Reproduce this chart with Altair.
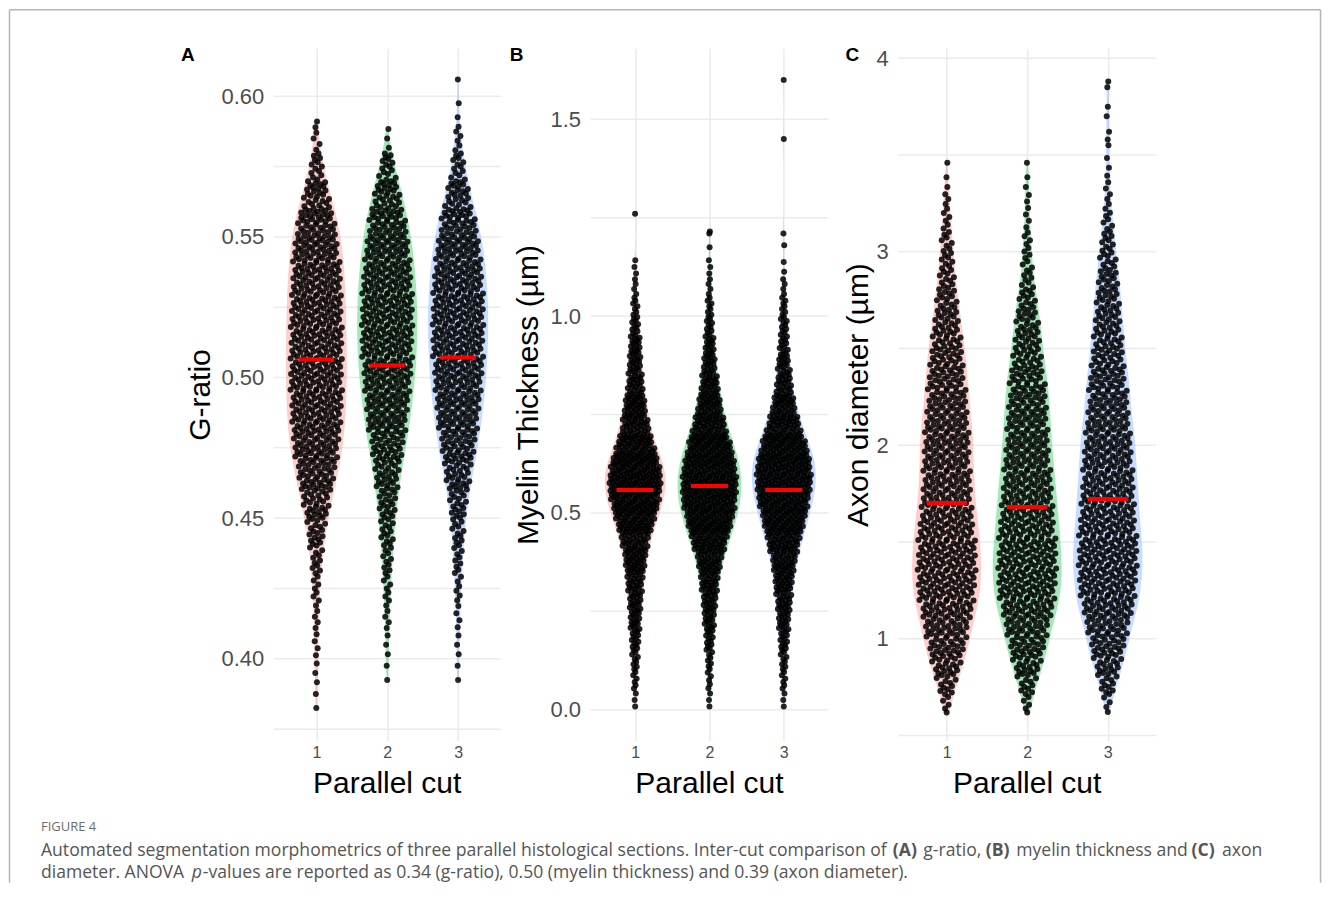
import altair as alt
import numpy as np
import pandas as pd

FONT = "Liberation Sans"
CAPTION_FONT = "Open Sans"

# ---------------- values ----------------
GROUPS = [1, 2, 3]
GROUP_COLORS = ["#F8766D", "#00BA38", "#619CFF"]
X_TITLE = "Parallel cut"

# Panel A - G-ratio : number of points per 0.01-wide bin starting at 0.38
A_TITLE = "G-ratio"
A_BIN_START, A_BIN_WIDTH = 0.38, 0.01
A_COUNTS_1 = [2, 3, 4, 5, 7, 11, 18, 28, 40, 50, 55, 57, 58, 57, 56, 54, 50, 42, 27, 13, 5]
A_EXTRA_1 = [0.591]
A_COUNTS_2 = [0, 2, 3, 5, 7, 10, 14, 19, 26, 35, 44, 50, 55, 57, 57, 54, 49, 41, 29, 15, 3]
A_EXTRA_2 = []
A_COUNTS_3 = [0, 2, 3, 4, 6, 9, 12, 18, 27, 37, 45, 51, 55, 57, 57, 54, 49, 39, 25, 13, 6, 2]
A_EXTRA_3 = [0.606]
A_MEDIANS = [0.5064, 0.5043, 0.5071]
A_TICKS = [0.40, 0.45, 0.50, 0.55, 0.60]
A_MINOR = [0.375, 0.425, 0.475, 0.525, 0.575]

# Panel B - myelin thickness : points per 0.05-wide bin starting at 0.00
B_TITLE = "Myelin Thickness (µm)"
B_BIN_START, B_BIN_WIDTH = 0.0, 0.05
B_COUNTS_1 = [3, 6, 8, 12, 15, 18, 23, 30, 37, 55, 70, 81, 73, 53, 37, 31, 22, 18, 16, 11, 7, 4, 3]
B_EXTRA_1 = [1.26]
B_COUNTS_2 = [3, 5, 7, 11, 15, 20, 25, 33, 50, 66, 79, 83, 77, 62, 46, 33, 25, 18, 14, 10, 7, 4, 3, 1]
B_EXTRA_2 = [1.21, 1.215]
B_COUNTS_3 = [3, 6, 8, 12, 16, 21, 26, 33, 46, 60, 73, 83, 81, 66, 46, 32, 22, 17, 12, 10, 7, 4, 2]
B_EXTRA_3 = [1.18, 1.21, 1.45, 1.60]
B_MEDIANS = [0.558, 0.5685, 0.558]
B_TICKS = [0.0, 0.5, 1.0, 1.5]
B_MINOR = [0.25, 0.75, 1.25]

# Panel C - axon diameter : points per 0.1-wide bin starting at 0.61
C_TITLE = "Axon diameter (µm)"
C_BIN_START, C_BIN_WIDTH = 0.61, 0.1
C_COUNTS_1 = [5, 12, 20, 26, 31, 37, 41, 42, 41, 39, 36, 34, 33, 32, 32, 29, 27, 25, 23, 20, 17, 14, 11, 9, 7, 5, 4, 2, 1]
C_EXTRA_1 = []
C_COUNTS_2 = [5, 11, 19, 25, 30, 37, 41, 42, 41, 39, 37, 35, 33, 31, 29, 28, 26, 24, 20, 18, 15, 12, 8, 6, 5, 3, 3, 2, 1]
C_EXTRA_2 = []
C_COUNTS_3 = [4, 11, 18, 24, 29, 36, 40, 42, 42, 40, 38, 37, 35, 34, 32, 29, 27, 25, 22, 20, 18, 16, 14, 11, 9, 6, 4, 3, 2]
C_EXTRA_3 = [3.55, 3.58, 3.62, 3.70, 3.75, 3.85, 3.88]
C_MEDIANS = [1.702, 1.681, 1.723]
C_TICKS = [1, 2, 3, 4]
C_MINOR = [0.5, 1.5, 2.5, 3.5]

CAPTION_HEAD = "FIGURE 4"
CAP1 = ["Automated segmentation morphometrics of three parallel histological sections. Inter-cut comparison of",
        "(A)", "g-ratio,", "(B)", "myelin thickness and", "(C)", "axon"]
CAP1_BOLD = [False, True, False, True, False, True, False]
CAP2 = ["diameter. ANOVA", "p", "-values are reported as 0.34 (g-ratio), 0.50 (myelin thickness) and 0.39 (axon diameter)."]
CAP2_ITALIC = [False, True, False]

# ---------------- layout ----------------
PLOT_W, PLOT_H = 883, 693
GRID_COLOR = "#EBEBEB"
ONE = pd.DataFrame({"k": [0]})


def build_values(start, width, counts, extras):
    vals = []
    for i, n in enumerate(counts):
        lo = start + i * width
        for j in range(n):
            vals.append(lo + (j + 0.5) * width / n)
    vals.extend(extras)
    return np.array(sorted(vals))


def vdc(k):
    v, denom = 0.0, 1.0
    while k:
        denom *= 2.0
        k, r = divmod(k, 2)
        v += r / denom
    return v


def kde(vals, at, bw):
    d = (np.asarray(at)[:, None] - vals[None, :]) / bw
    return np.exp(-0.5 * d * d).sum(axis=1) / (bw * np.sqrt(2 * np.pi))


def panel(spec):
    left, wpx = spec["left"], spec["wpx"]
    unit = wpx / 3.2
    d0 = 0.4 - left / unit
    d1 = d0 + PLOT_W / unit
    xscale = alt.Scale(domain=[d0, d1], nice=False, zero=False)
    yscale = alt.Scale(domain=spec["ydom"], nice=False, zero=False)
    xaxis = alt.Axis(values=GROUPS, orient="bottom", title=None, ticks=False, domain=False,
                     grid=True, gridColor=GRID_COLOR, gridWidth=1.5, labelFontSize=16,
                     labelColor="#4D4D4D", labelPadding=4, labelFlush=False, format="d",
                     labelFont=FONT)
    yaxis = alt.Axis(values=spec["ticks"], orient="left", offset=-left, title=spec["title"],
                     titleFontSize=30, titleFontWeight="normal", titleColor="black",
                     titleFont=FONT, titlePadding=spec["tpad"], labelFontSize=22,
                     labelColor="#4D4D4D", labelPadding=10, labelFont=FONT, ticks=False,
                     domain=False, grid=False, format=spec["fmt"], labelFlush=False,
                     labelOverlap=False)

    def X(f):
        return alt.X(f, type="quantitative", scale=xscale, axis=xaxis)

    def Y(f):
        return alt.Y(f, type="quantitative", scale=yscale, axis=yaxis)

    bw = spec["bw"]
    gvals = [build_values(spec["start"], spec["width"], c, e) for c, e in zip(spec["counts"], spec["extras"])]
    peak = max(kde(v, np.linspace(v.min(), v.max(), 400), bw).max() for v in gvals)
    k_violin = 0.43 / peak
    k_point = 0.37 / peak

    rows = []
    for g, v in zip(GROUPS, gvals):
        dens = kde(v, v, bw)
        ranks = np.argsort(np.argsort(v, kind="stable"), kind="stable")
        off = np.array([vdc(int(r) + 1) for r in ranks]) - 0.5
        xs = g + off * 2.0 * k_point * dens
        rows += [{"g": g, "v": float(a), "xj": float(b)} for a, b in zip(v, xs)]
    pts = pd.DataFrame(rows)

    grid_df = pd.DataFrame({"y": list(spec["ticks"]) + list(spec["minor"])})
    grid_df["x0"] = 0.4
    grid_df["x1"] = 3.6
    grid = alt.Chart(grid_df).mark_rule(color=GRID_COLOR, strokeWidth=1.5).encode(
        x=X("x0"), x2="x1", y=Y("y"))

    violins = []
    for g, v, col in zip(GROUPS, gvals, GROUP_COLORS):
        vio = (alt.Chart(pts)
               .transform_filter(alt.datum.g == g)
               .transform_density("v", as_=["v", "density"], bandwidth=bw, counts=True,
                                  extent=[float(v.min()), float(v.max())], steps=200)
               .transform_calculate(lo=f"{g} - datum.density * {k_violin}",
                                    hi=f"{g} + datum.density * {k_violin}")
               .mark_area(orient="horizontal", color=col, opacity=0.35)
               .encode(y=Y("v"), x=X("lo"), x2="hi"))
        violins.append(vio)

    points = alt.Chart(pts).mark_circle(size=36, color="black", opacity=0.85).encode(
        x=X("xj"), y=Y("v"))

    med_df = pd.DataFrame({"g": GROUPS, "m": spec["medians"]})
    medians = (alt.Chart(med_df)
               .transform_calculate(lo="datum.g - 0.25", hi="datum.g + 0.25")
               .mark_rule(color="#FF0000", strokeWidth=4)
               .encode(x=X("lo"), x2="hi", y=Y("m")))

    xt_df = pd.DataFrame({"g": [2], "t": [X_TITLE]})
    xtitle = alt.Chart(xt_df).mark_text(fontSize=30, font=FONT, color="black",
                                        baseline="alphabetic").encode(
        x=X("g"), y=alt.value(745), text="t")

    letter = alt.Chart(ONE).mark_text(text=spec["letter"], fontSize=19, fontWeight="bold",
                                      font=FONT, color="black", baseline="alphabetic").encode(
        x=alt.value(spec["lx"]), y=alt.value(13))

    return alt.layer(grid, *violins, points, medians, xtitle, letter)


specs = [
    dict(left=0, wpx=227, ydom=[0.37087, 0.61705], ticks=A_TICKS, minor=A_MINOR, fmt=".2f",
         title=A_TITLE, tpad=6, bw=0.0055, start=A_BIN_START, width=A_BIN_WIDTH,
         counts=[A_COUNTS_1, A_COUNTS_2, A_COUNTS_3], extras=[A_EXTRA_1, A_EXTRA_2, A_EXTRA_3],
         medians=A_MEDIANS, letter="A", lx=-86),
    dict(left=317, wpx=238, ydom=[-0.0787, 1.6802], ticks=B_TICKS, minor=B_MINOR, fmt=".1f",
         title=B_TITLE, tpad=7, bw=0.03, start=B_BIN_START, width=B_BIN_WIDTH,
         counts=[B_COUNTS_1, B_COUNTS_2, B_COUNTS_3], extras=[B_EXTRA_1, B_EXTRA_2, B_EXTRA_3],
         medians=B_MEDIANS, letter="B", lx=243),
    dict(left=625, wpx=258, ydom=[0.4733, 4.0516], ticks=C_TICKS, minor=C_MINOR, fmt="d",
         title=C_TITLE, tpad=3, bw=0.065, start=C_BIN_START, width=C_BIN_WIDTH,
         counts=[C_COUNTS_1, C_COUNTS_2, C_COUNTS_3], extras=[C_EXTRA_1, C_EXTRA_2, C_EXTRA_3],
         medians=C_MEDIANS, letter="C", lx=579),
]

panels = [panel(s) for s in specs]


def text_at(x, y, txt, size, color, font, weight="normal", style="normal"):
    return alt.Chart(ONE).mark_text(text=txt, fontSize=size, color=color, font=font,
                                    fontWeight=weight, fontStyle=style, align="left",
                                    baseline="alphabetic").encode(x=alt.value(x), y=alt.value(y))


# frame of the figure (left, top, right edges); kept inside the 1314 px page body
BL, BT, BR, BB = -264.5, -38.5, 1047.5, 835
FRAME = "#b5b5b5"
frame = [
    alt.Chart(ONE).mark_rule(color=FRAME, strokeWidth=1.5).encode(x=alt.value(BL), y=alt.value(BT), y2=alt.value(BB)),
    alt.Chart(ONE).mark_rule(color=FRAME, strokeWidth=1.5).encode(x=alt.value(BL), x2=alt.value(BR), y=alt.value(BT)),
    alt.Chart(ONE).mark_rule(color=FRAME, strokeWidth=1.5).encode(x=alt.value(BR), y=alt.value(BT), y2=alt.value(BB)),
]

# caption: pieces laid out one after another (approximate advance widths at 17.6 px)
CAP_COLOR = "#555555"
CS = 17.6
CAP1_W = [847, 25, 57, 25, 170, 25, 39]
GAP = 5.5
caption = [text_at(-233, 783, CAPTION_HEAD, 13, "#6d6e71", CAPTION_FONT)]
x = -233.0
for t, w, b in zip(CAP1, CAP1_W, CAP1_BOLD):
    caption.append(text_at(x, 808, t, CS, CAP_COLOR, CAPTION_FONT, weight="bold" if b else "normal"))
    x += w + GAP
cap2_x = [-233, -82, -71]
for t, x2, it in zip(CAP2, cap2_x, CAP2_ITALIC):
    caption.append(text_at(x2, 830, t, CS, CAP_COLOR, CAPTION_FONT, style="italic" if it else "normal"))

chart = (alt.layer(*panels, *frame, *caption)
         .resolve_scale(x="independent", y="independent")
         .properties(width=PLOT_W, height=PLOT_H, padding=0, background="white")
         .configure(font=FONT)
         .configure_view(stroke="transparent", strokeWidth=0))

chart.save("out.html", embed_options={"renderer": "svg", "actions": False})
